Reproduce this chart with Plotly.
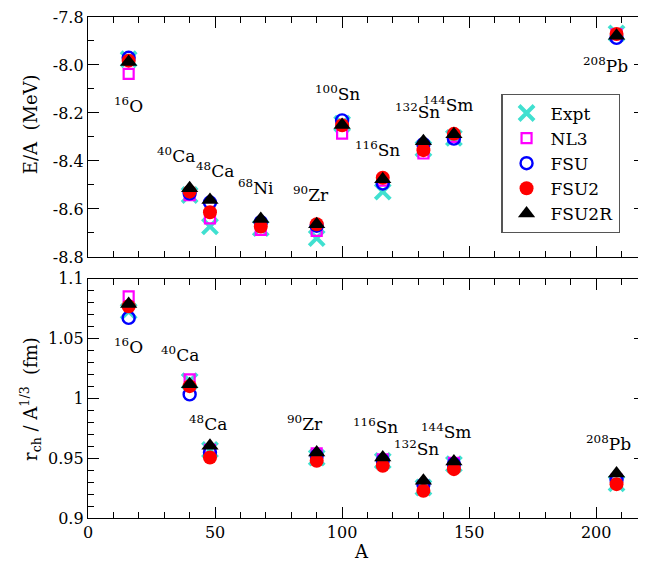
import plotly.graph_objects as go

# ---- data ----
A_top = [16, 40, 48, 68, 90, 100, 116, 132, 144, 208]
EA_expt = [-7.976, -8.542, -8.673, -8.680, -8.722, -8.245, -8.528, -8.349, -8.304, -7.868]
EA_nl3 = [-8.037, -8.542, -8.639, -8.687, -8.691, -8.286, -8.482, -8.369, -8.300, -7.872]
EA_fsu = [-7.970, -8.535, -8.573, -8.655, -8.670, -8.231, -8.494, -8.330, -8.307, -7.887]
EA_fsu2 = [-7.982, -8.528, -8.614, -8.673, -8.664, -8.251, -8.470, -8.355, -8.287, -7.871]
EA_fsu2r = [-7.988, -8.514, -8.563, -8.642, -8.664, -8.250, -8.476, -8.318, -8.289, -7.878]

A_bot = [16, 40, 48, 90, 116, 132, 144, 208]
R_expt = [1.0728, 1.0144, 0.9570, 0.9505, 0.9478, 0.9255, 0.9450, 0.9290]
R_nl3 = [1.0852, 1.0158, 0.9570, 0.9540, 0.9490, 0.9260, 0.9460, 0.9320]
R_fsu = [1.0672, 1.0033, 0.9550, 0.9520, 0.9480, 0.9280, 0.9450, 0.9320]
R_fsu2 = [1.0769, 1.0102, 0.9505, 0.9478, 0.9436, 0.9228, 0.9408, 0.9283]
R_fsu2r = [1.0788, 1.0117, 0.9603, 0.9547, 0.9505, 0.9311, 0.9472, 0.9372]

top_ticks = [-8.8, -8.6, -8.4, -8.2, -8.0, -7.8]
top_ticktext = ["-8.8", "-8.6", "-8.4", "-8.2", "-8.0", "-7.8"]
bot_ticks = [0.9, 0.95, 1.0, 1.05, 1.1]
bot_ticktext = ["0.9", "0.95", "1", "1.05", "1.1"]
x_ticks = [0, 50, 100, 150, 200]
x_ticktext = ["0", "50", "100", "150", "200"]

lab_top = ["<sup>16</sup>O", "<sup>40</sup>Ca", "<sup>48</sup>Ca", "<sup>68</sup>Ni", "<sup>90</sup>Zr",
           "<sup>100</sup>Sn", "<sup>116</sup>Sn", "<sup>132</sup>Sn", "<sup>144</sup>Sm", "<sup>208</sup>Pb"]
lab_top_x = [15.9, 34.6, 50.1, 66.1, 87.7, 98.0, 114.0, 129.7, 141.6, 203.6]
lab_top_y = [-8.167, -8.375, -8.437, -8.51, -8.536, -8.117, -8.35, -8.19, -8.163, -8.0]

lab_bot = ["<sup>16</sup>O", "<sup>40</sup>Ca", "<sup>48</sup>Ca", "<sup>90</sup>Zr",
           "<sup>116</sup>Sn", "<sup>132</sup>Sn", "<sup>144</sup>Sm", "<sup>208</sup>Pb"]
lab_bot_x = [15.9, 36.4, 47.4, 85.4, 113.2, 129.3, 140.7, 204.8]
lab_bot_y = [1.0436, 1.037, 0.9794, 0.979, 0.977, 0.9586, 0.973, 0.963]

FONT = "DejaVu Serif"

series = [
    ("Expt", EA_expt, R_expt, dict(symbol="x-thin", size=15, color="#40E0D0",
                                    line=dict(width=4, color="#40E0D0"))),
    ("NL3", EA_nl3, R_nl3, dict(symbol="square-open", size=10, color="#FF00FF",
                                 line=dict(width=2.2, color="#FF00FF"))),
    ("FSU", EA_fsu, R_fsu, dict(symbol="circle-open", size=12, color="#0000FF",
                                 line=dict(width=2.4, color="#0000FF"))),
    ("FSU2", EA_fsu2, R_fsu2, dict(symbol="circle", size=14, color="#FF0000",
                                    line=dict(width=0))),
    ("FSU2R", EA_fsu2r, R_fsu2r, dict(symbol="triangle-up", size=15, color="#000000",
                                       line=dict(width=0))),
]

fig = go.Figure()
for name, ea, rr, mk in series:
    fig.add_trace(go.Scatter(x=A_top, y=ea, mode="markers", name=name, marker=mk,
                             xaxis="x", yaxis="y", showlegend=True))
    fig.add_trace(go.Scatter(x=A_bot, y=rr, mode="markers", name=name, marker=mk,
                             xaxis="x2", yaxis="y2", showlegend=False))

axis_common = dict(showline=True, linecolor="black", linewidth=1.3, mirror="allticks",
                   ticks="inside", ticklen=11, tickwidth=1.2, tickcolor="black",
                   showgrid=False, zeroline=False, ticklabeloverflow="allow",
                   tickfont=dict(family=FONT, size=16, color="black"))

# page has an 8px body margin: figure is 638x555 placed at (8, 8)
W, H = 638, 555
L, R, T, B = 80, 0, 6.5, 45.3
OFF = 8

fig.update_layout(
    width=W, height=H,
    margin=dict(l=L, r=R, t=T, b=B),
    plot_bgcolor="white", paper_bgcolor="white",
    font=dict(family=FONT, color="black"),
    xaxis=dict(domain=[0, 1], range=[0, 219.2], anchor="y", tickmode="array",
               tickvals=x_ticks, showticklabels=False,
               minor=dict(ticks="inside", dtick=10, tick0=0, ticklen=6, tickcolor="black"),
               **axis_common),
    yaxis=dict(domain=[0.5211, 1], range=[-8.8, -7.8], anchor="x", tickmode="array",
               tickvals=top_ticks, ticktext=top_ticktext,
               minor=dict(ticks="inside", dtick=0.1, tick0=-8.8, ticklen=6, tickcolor="black"),
               **axis_common),
    xaxis2=dict(domain=[0, 1], range=[0, 219.2], anchor="y2", tickmode="array",
                tickvals=x_ticks, ticktext=x_ticktext,
                minor=dict(ticks="inside", dtick=10, tick0=0, ticklen=6, tickcolor="black"),
                **axis_common),
    yaxis2=dict(domain=[0, 0.4777], range=[0.9, 1.1], anchor="x2", tickmode="array",
                tickvals=bot_ticks, ticktext=bot_ticktext,
                minor=dict(ticks="inside", dtick=0.01, tick0=0.9, ticklen=6, tickcolor="black"),
                **axis_common),
    legend=dict(x=(502 - OFF - L) / (W - L - R), y=1 - (92 - OFF - T) / (H - T - B),
                xanchor="left", yanchor="top",
                bgcolor="white", bordercolor="#555555", borderwidth=1.3,
                font=dict(family=FONT, size=17, color="black"),
                itemsizing="trace", itemwidth=38, tracegroupgap=0),
)

ann = []
for t, x, y in zip(lab_top, lab_top_x, lab_top_y):
    ann.append(dict(text=t, x=x, y=y, xref="x", yref="y", showarrow=False,
                    xanchor="center", yanchor="middle",
                    font=dict(family=FONT, size=17, color="black")))
for t, x, y in zip(lab_bot, lab_bot_x, lab_bot_y):
    ann.append(dict(text=t, x=x, y=y, xref="x2", yref="y2", showarrow=False,
                    xanchor="center", yanchor="middle",
                    font=dict(family=FONT, size=17, color="black")))

plot_w = W - L - R
plot_h = H - T - B


def px_to_paper(px, py):
    return (px - OFF - L) / plot_w, (H - B - (py - OFF)) / plot_h


titles = [("E/A  (MeV)", 30, 122, -90), ("r<sub>ch</sub> / A<sup>1/3</sup>  (fm)", 30, 398, -90),
          ("A", 362, 551, 0)]
for t, px, py, ang in titles:
    xx, yy = px_to_paper(px, py)
    ann.append(dict(text=t, x=xx, y=yy, xref="paper", yref="paper", showarrow=False,
                    xanchor="center", yanchor="middle", textangle=ang,
                    font=dict(family=FONT, size=18, color="black")))

fig.update_layout(annotations=ann)
fig.write_html("out.html")
